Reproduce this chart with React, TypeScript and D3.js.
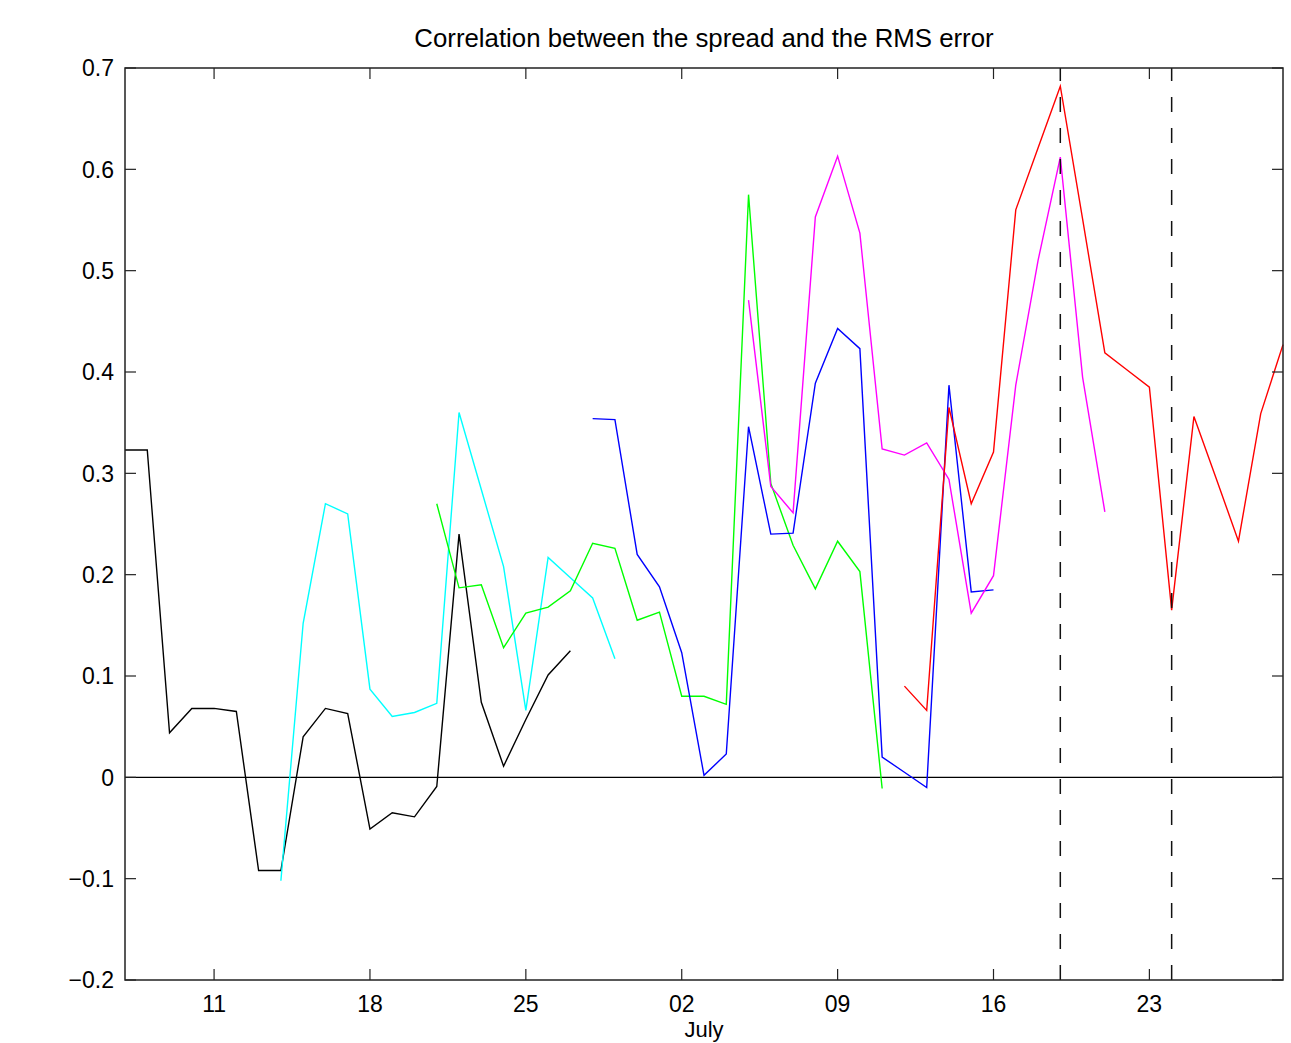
import React from "react";
import * as d3 from "d3";

const width = 1291;
const height = 1043;
const margin = { top: 68, right: 8, bottom: 63, left: 125 };

// first day of the x axis, every series is one value per day from its own start
const startDate = new Date(Date.UTC(2007, 5, 7));
const endDate = new Date(Date.UTC(2007, 6, 29));

const blackStart = 0;
const blackValues = [0.323, 0.323, 0.044, 0.068, 0.068, 0.065, -0.092, -0.092, 0.04, 0.068, 0.063, -0.051, -0.035, -0.039, -0.009, 0.24, 0.074, 0.011, 0.057, 0.101, 0.125];

const cyanStart = 7;
const cyanValues = [-0.102, 0.152, 0.27, 0.26, 0.087, 0.06, 0.064, 0.073, 0.36, 0.284, 0.208, 0.066, 0.217, 0.197, 0.177, 0.117];

const greenStart = 14;
const greenValues = [0.27, 0.187, 0.19, 0.128, 0.162, 0.168, 0.184, 0.231, 0.226, 0.155, 0.163, 0.08, 0.08, 0.072, 0.575, 0.29, 0.229, 0.186, 0.233, 0.203, -0.011];

const blueStart = 21;
const blueValues = [0.354, 0.353, 0.22, 0.188, 0.123, 0.002, 0.023, 0.346, 0.24, 0.241, 0.389, 0.443, 0.423, 0.02, 0.005, -0.01, 0.387, 0.183, 0.185];

const magentaStart = 28;
const magentaValues = [0.471, 0.287, 0.261, 0.553, 0.613, 0.537, 0.324, 0.318, 0.33, 0.294, 0.162, 0.199, 0.387, 0.51, 0.612, 0.395, 0.262];

const redStart = 35;
const redValues = [0.09, 0.066, 0.365, 0.27, 0.321, 0.56, 0.621, 0.682, 0.551, 0.419, 0.402, 0.385, 0.165, 0.356, 0.295, 0.233, 0.359, 0.427];

const series = [
  { color: "#000000", start: blackStart, values: blackValues },
  { color: "#00ffff", start: cyanStart, values: cyanValues },
  { color: "#00ff00", start: greenStart, values: greenValues },
  { color: "#0000ff", start: blueStart, values: blueValues },
  { color: "#ff00ff", start: magentaStart, values: magentaValues },
  { color: "#ff0000", start: redStart, values: redValues },
];

const xTickDays = [4, 11, 18, 25, 32, 39, 46];
const yTicks = [-0.2, -0.1, 0, 0.1, 0.2, 0.3, 0.4, 0.5, 0.6, 0.7];
const markerDays = [42, 47];

const title = "Correlation between the spread and the RMS error";
const monthLabel = "July";

const font = "'Liberation Sans', Arial, Helvetica, sans-serif";
const dayMs = 24 * 3600 * 1000;
const dayToDate = (d) => new Date(startDate.getTime() + d * dayMs);

function App() {
  const x = d3
    .scaleUtc()
    .domain([startDate, endDate])
    .range([margin.left, width - margin.right]);

  const y = d3
    .scaleLinear()
    .domain([-0.2, 0.7])
    .range([height - margin.bottom, margin.top]);

  const line = d3
    .line()
    .x((d) => x(d[0]))
    .y((d) => y(d[1]));

  const x0 = x.range()[0];
  const x1 = x.range()[1];
  const y0 = y.range()[0];
  const y1 = y.range()[1];
  const tick = 11;
  const fmtDay = d3.utcFormat("%d");
  const fmtY = (v) => (Math.abs(v) < 1e-9 ? "0" : d3.format(".1f")(v).replace("-", "\u2212"));

  return (
    <svg
      width={width}
      height={height}
      style={{ position: "absolute", left: 0, top: 0, background: "#fff" }}
      fontFamily={font}
    >
      <rect x={0} y={0} width={width} height={height} fill="#fff" />

      <text x={(x0 + x1) / 2} y={47} fontSize={25.8} textAnchor="middle" fill="#000">
        {title}
      </text>

      {/* zero line */}
      <line x1={x0} x2={x1} y1={y(0)} y2={y(0)} stroke="#000" strokeWidth={1.3} />

      {series.map((s, i) => (
        <path
          key={i}
          d={line(s.values.map((v, j) => [dayToDate(s.start + j), v]))}
          fill="none"
          stroke={s.color}
          strokeWidth={1.4}
        />
      ))}

      {markerDays.map((d) => (
        <line
          key={d}
          x1={x(dayToDate(d))}
          x2={x(dayToDate(d))}
          y1={y0}
          y2={y1}
          stroke="#111"
          strokeWidth={1.5}
          strokeDasharray="15,16"
        />
      ))}

      {/* axes box and ticks */}
      <rect x={x0} y={y1} width={x1 - x0} height={y0 - y1} fill="none" stroke="#222" strokeWidth={1.5} />

      {yTicks.map((v) => (
        <g key={v}>
          <line x1={x0} x2={x0 + tick} y1={y(v)} y2={y(v)} stroke="#222" strokeWidth={1.2} />
          <line x1={x1} x2={x1 - tick} y1={y(v)} y2={y(v)} stroke="#222" strokeWidth={1.2} />
          <text x={x0 - 11} y={y(v)} dy="0.36em" fontSize={23} textAnchor="end" fill="#000">
            {fmtY(v)}
          </text>
        </g>
      ))}

      {xTickDays.map((d) => {
        const px = x(dayToDate(d));
        return (
          <g key={d}>
            <line x1={px} x2={px} y1={y0} y2={y0 - tick} stroke="#222" strokeWidth={1.2} />
            <line x1={px} x2={px} y1={y1} y2={y1 + tick} stroke="#222" strokeWidth={1.2} />
            <text x={px} y={1012} fontSize={23} textAnchor="middle" fill="#000">
              {fmtDay(dayToDate(d))}
            </text>
          </g>
        );
      })}

      <text x={(x0 + x1) / 2} y={1037} fontSize={22} textAnchor="middle" fill="#000">
        {monthLabel}
      </text>
    </svg>
  );
}

export default App;
